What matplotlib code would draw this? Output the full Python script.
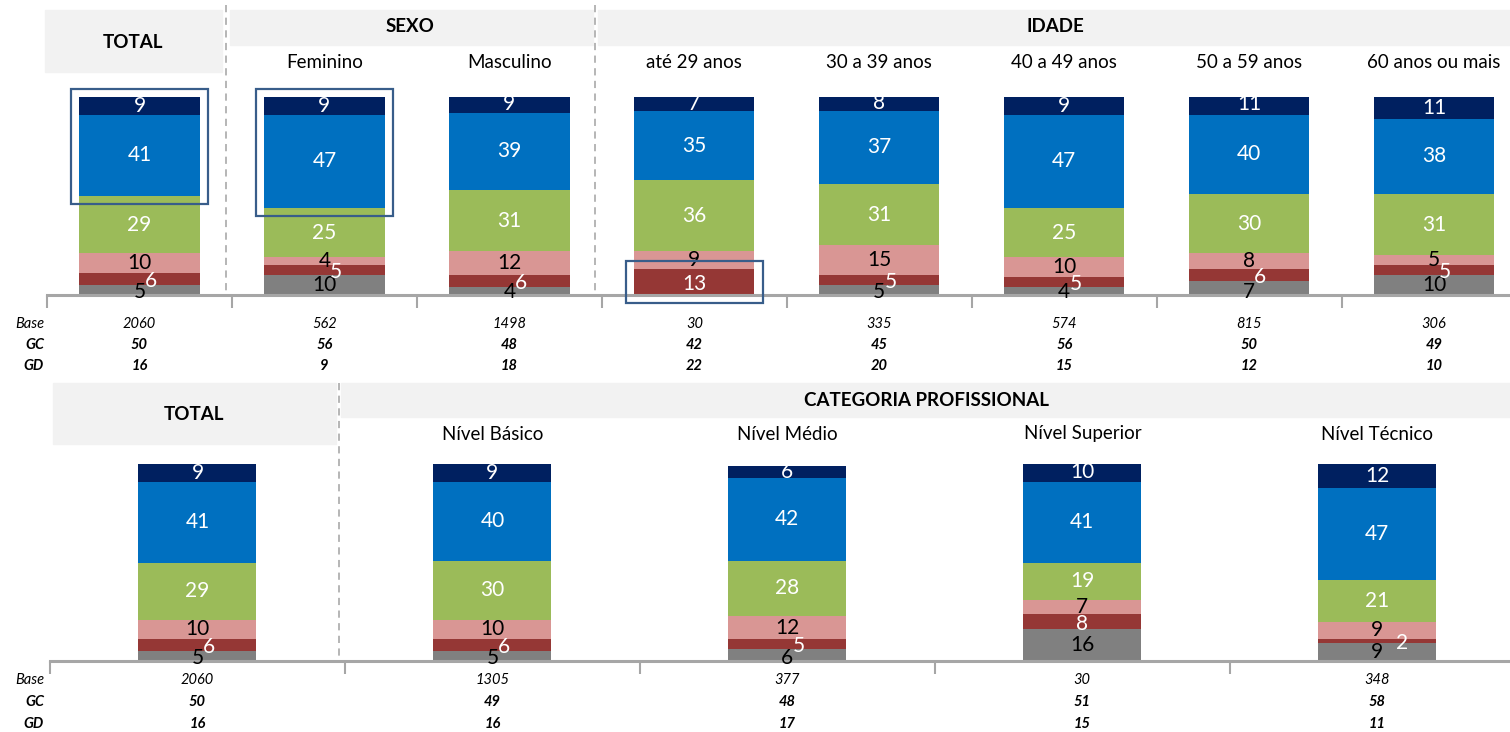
import matplotlib
matplotlib.use("Agg")
import matplotlib.pyplot as plt
from matplotlib.patches import Rectangle
from matplotlib.lines import Line2D
from matplotlib.transforms import blended_transform_factory

plt.rcParams['font.family'] = ['Lato', 'DejaVu Sans']

# segment order, bottom -> top
seg_colors = ['#808080', '#953735', '#D99694', '#9BBB59', '#0070C0', '#002060']
seg_text = ['black', 'white', 'black', 'white', 'white', 'white']

# top panel
top_cats = ['TOTAL', 'Feminino', 'Masculino', 'até 29 anos', '30 a 39 anos',
            '40 a 49 anos', '50 a 59 anos', '60 anos ou mais']
top_gray = [5, 10, 4, 0, 5, 4, 7, 10]
top_darkred = [6, 5, 6, 13, 5, 5, 6, 5]
top_pink = [10, 4, 12, 9, 15, 10, 8, 5]
top_green = [29, 25, 31, 36, 31, 25, 30, 31]
top_blue = [41, 47, 39, 35, 37, 47, 40, 38]
top_navy = [9, 9, 9, 7, 8, 9, 11, 11]
top_base = ['2060', '562', '1498', '30', '335', '574', '815', '306']
top_gc = ['50', '56', '48', '42', '45', '56', '50', '49']
top_gd = ['16', '9', '18', '22', '20', '15', '12', '10']

# bottom panel
bot_cats = ['TOTAL', 'Nível Básico', 'Nível Médio', 'Nível Superior', 'Nível Técnico']
bot_gray = [5, 5, 6, 16, 9]
bot_darkred = [6, 6, 5, 8, 2]
bot_pink = [10, 10, 12, 7, 9]
bot_green = [29, 30, 28, 19, 21]
bot_blue = [41, 40, 42, 41, 47]
bot_navy = [9, 9, 6, 10, 12]
bot_base = ['2060', '1305', '377', '30', '348']
bot_gc = ['50', '49', '48', '51', '58']
bot_gd = ['16', '16', '17', '15', '11']

W, H = 1510, 732
fig = plt.figure(figsize=(W / 100, H / 100), dpi=100)


def fx(px):
    return px / W


def fy(py):
    return 1 - py / H


def header_box(x0, y0, x1, y1):
    fig.patches.append(Rectangle((fx(x0), fy(y1)), (x1 - x0) / W, (y1 - y0) / H,
                                 transform=fig.transFigure, color='#F2F2F2', zorder=0))


def vsep(x, y0, y1):
    fig.add_artist(Line2D([fx(x), fx(x)], [fy(y0), fy(y1)], transform=fig.transFigure,
                          color='#B0B0B0', lw=1.3, ls=(0, (4, 3))))


def draw_panel(ax, series, width, cats, sub_y, base, gc, gd, row_y, highlights):
    n = len(cats)
    xs = list(range(n))
    bottoms = [0] * n
    for s, vals in enumerate(series):
        ax.bar(xs, vals, width, bottom=bottoms, color=seg_colors[s], zorder=2)
        for i, v in enumerate(vals):
            if v == 0:
                continue
            y = bottoms[i] + v / 2
            dx = 0
            if s == 0 and v < 8:
                y = 1.5
            elif s == 1:
                y -= 1
                if v <= 6:
                    dx = 18 if v <= 3 else 8
            ax.annotate(str(v), (i, y), xytext=(dx, 0), textcoords='offset points',
                        ha='center', va='center', fontsize=15, color=seg_text[s],
                        annotation_clip=False, zorder=4)
        bottoms = [b + v for b, v in zip(bottoms, vals)]

    for i, segs in highlights:
        lo = sum(series[k][i] for k in range(segs[0]))
        hi = lo + sum(series[k][i] for k in segs)
        ax.add_patch(Rectangle((i - 0.37, lo - 4), 0.74, hi - lo + 8, fill=False,
                               ec='#385D8A', lw=1.6, clip_on=False, zorder=5))

    ax.set_ylim(0, 100)
    for side in ['top', 'right', 'left']:
        ax.spines[side].set_visible(False)
    ax.spines['bottom'].set_color('#A6A6A6')
    ax.spines['bottom'].set_linewidth(2.2)
    ax.set_yticks([])
    ax.set_xticks([i - 0.5 for i in range(n)])
    ax.set_xticklabels([])
    ax.tick_params(axis='x', length=9, width=1.5, color='#A6A6A6')

    tr = blended_transform_factory(ax.transData, fig.transFigure)
    for i, c in enumerate(cats):
        if i > 0:
            ax.text(i, fy(sub_y), c, transform=tr, ha='center', va='center', fontsize=13.5)
    for k, (vals, lab) in enumerate([(base, 'Base'), (gc, 'GC'), (gd, 'GD')]):
        wt = 'normal' if k == 0 else 'bold'
        fig.text(fx(44), fy(row_y[k]), lab, ha='right', va='center', fontsize=10.5,
                 style='italic', weight=wt)
        for i, v in enumerate(vals):
            ax.text(i, fy(row_y[k]), v, transform=tr, ha='center', va='center',
                    fontsize=10.5, style='italic', weight=wt)


# headers top
header_box(45, 10, 222, 72)
header_box(230, 10, 593, 45)
header_box(598, 10, 1510, 45)
fig.text(fx(133), fy(42), 'TOTAL', ha='center', va='center', fontsize=13.5, weight='bold')
fig.text(fx(410), fy(27), 'SEXO', ha='center', va='center', fontsize=13.5, weight='bold')
fig.text(fx(1055), fy(27), 'IDADE', ha='center', va='center', fontsize=13.5, weight='bold')
vsep(226, 5, 295)
vsep(595, 5, 295)

# headers bottom
header_box(53, 383, 336, 444)
header_box(341, 383, 1510, 417)
fig.text(fx(194), fy(414), 'TOTAL', ha='center', va='center', fontsize=13.5, weight='bold')
fig.text(fx(926), fy(400), 'CATEGORIA PROFISSIONAL', ha='center', va='center',
         fontsize=13.5, weight='bold')
vsep(339, 383, 660)

ax1 = fig.add_axes([fx(47), fy(295), (1510 - 47) / W, (295 - 97) / H])
ax1.set_xlim(-0.5, 7.41)
ax1.patch.set_alpha(0)
draw_panel(ax1, [top_gray, top_darkred, top_pink, top_green, top_blue, top_navy],
           0.65, top_cats, 62, top_base, top_gc, top_gd, [324, 345, 366],
           [(0, [4, 5]), (1, [4, 5]), (3, [1])])

ax2 = fig.add_axes([fx(50), fy(661), (1510 - 50) / W, (661 - 464) / H])
ax2.set_xlim(-0.5, 4.45)
ax2.patch.set_alpha(0)
draw_panel(ax2, [bot_gray, bot_darkred, bot_pink, bot_green, bot_blue, bot_navy],
           0.40, bot_cats, 434, bot_base, bot_gc, bot_gd, [680, 702, 724], [])

fig.savefig('out.png', dpi=100)
